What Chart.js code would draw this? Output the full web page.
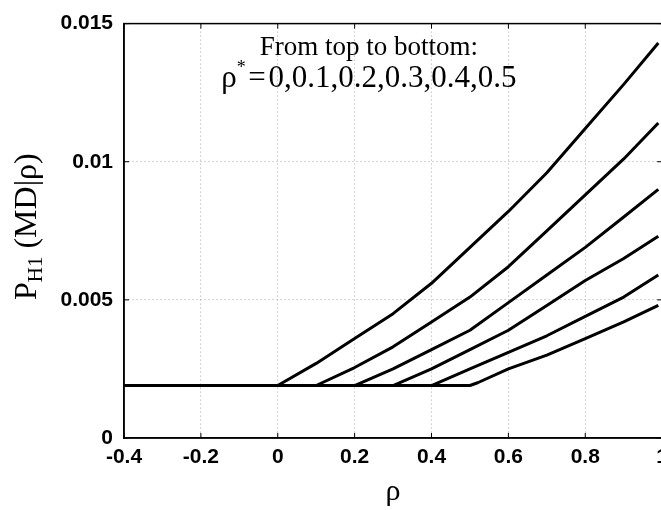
<!DOCTYPE html>
<html>
<head>
<meta charset="utf-8">
<script src="https://cdn.jsdelivr.net/npm/chart.js@4.4.0/dist/chart.umd.min.js"></script>
<style>
  html, body { margin: 0; padding: 0; background: #fff; overflow: hidden; }
  #wrap { width: 675px; height: 510px; }
</style>
</head>
<body>
<div id="wrap"><canvas id="chart"></canvas></div>
<script>
// one curve per rho*, flat at the floor value until rho reaches rho*
const rhoStar = [0, 0.1, 0.2, 0.3, 0.4, 0.5];

const rhoA = [-0.4, 0, 0.1, 0.2, 0.3, 0.4, 0.5, 0.6, 0.7, 0.8, 0.9, 0.99];
const pA   = [0.0019, 0.0019, 0.0027, 0.0036, 0.0045, 0.0056, 0.0069, 0.0082, 0.0096, 0.0112, 0.0128, 0.0143];

const rhoB = [-0.4, 0.1, 0.2, 0.3, 0.4, 0.5, 0.6, 0.7, 0.8, 0.9, 0.99];
const pB   = [0.0019, 0.0019, 0.00255, 0.0033, 0.0042, 0.0051, 0.0062, 0.0075, 0.0088, 0.0101, 0.0114];

const rhoC = [-0.4, 0.2, 0.3, 0.4, 0.5, 0.6, 0.7, 0.8, 0.9, 0.99];
const pC   = [0.0019, 0.0019, 0.0025, 0.0032, 0.0039, 0.0049, 0.0059, 0.0069, 0.0080, 0.0090];

const rhoD = [-0.4, 0.3, 0.4, 0.5, 0.6, 0.7, 0.8, 0.9, 0.99];
const pD   = [0.0019, 0.0019, 0.0025, 0.0032, 0.0039, 0.0048, 0.0057, 0.0065, 0.0073];

const rhoE = [-0.4, 0.4, 0.5, 0.6, 0.7, 0.8, 0.9, 0.99];
const pE   = [0.0019, 0.0019, 0.0025, 0.0031, 0.0037, 0.0044, 0.0051, 0.0059];

const rhoF = [-0.4, 0.5, 0.52, 0.6, 0.7, 0.8, 0.9, 0.99];
const pF   = [0.0019, 0.0019, 0.0020, 0.0025, 0.0030, 0.0036, 0.0042, 0.0048];

const xTickLabels = ['-0.4', '-0.2', '0', '0.2', '0.4', '0.6', '0.8', '1'];
const yTickLabels = ['0', '0.005', '0.01', '0.015'];

const serif = "'Liberation Serif', 'Times New Roman', serif";
const sans = "'Liberation Sans', Arial, sans-serif";

function makeSet(xs, ys) {
    return {
        data: xs.map((x, i) => ({ x: x, y: ys[i] })),
        borderColor: '#000',
        borderWidth: 3,
        borderJoinStyle: 'round',
        pointRadius: 0,
        fill: false,
        tension: 0
    };
}

// draw several text pieces in a row, each with its own size and baseline shift
function drawPieces(ctx, pieces, x, y) {
    let w = 0;
    pieces.forEach(p => { ctx.font = p.size + 'px ' + serif; p.w = ctx.measureText(p.text).width; w += p.w; });
    let cx = x - w / 2;
    pieces.forEach(p => {
        ctx.font = p.size + 'px ' + serif;
        ctx.fillText(p.text, cx, y + (p.dy || 0));
        cx += p.w;
    });
}

const decor = {
    id: 'decor',
    afterDatasetsDraw(chart) {
        const { ctx, chartArea: a, scales } = chart;
        ctx.save();
        ctx.strokeStyle = '#000';
        ctx.lineWidth = 1.5;
        ctx.strokeRect(a.left, a.top, a.right - a.left, a.bottom - a.top);

        // small inward ticks, matlab style
        ctx.lineWidth = 1;
        ctx.beginPath();
        scales.x.ticks.forEach(t => {
            const px = scales.x.getPixelForValue(t.value);
            ctx.moveTo(px, a.bottom); ctx.lineTo(px, a.bottom - 5);
            ctx.moveTo(px, a.top); ctx.lineTo(px, a.top + 5);
        });
        scales.y.ticks.forEach(t => {
            const py = scales.y.getPixelForValue(t.value);
            ctx.moveTo(a.left, py); ctx.lineTo(a.left + 5, py);
            ctx.moveTo(a.right, py); ctx.lineTo(a.right - 5, py);
        });
        ctx.stroke();

        // note inside the plot
        ctx.fillStyle = '#000';
        ctx.textBaseline = 'alphabetic';
        ctx.textAlign = 'left';
        const noteX = a.left + 0.455 * (a.right - a.left);
        drawPieces(ctx, [{ text: 'From top to bottom:', size: 27 }], noteX, 55);
        drawPieces(ctx, [
            { text: 'ρ', size: 31 },
            { text: '*', size: 18, dy: -14 },
            { text: '\u200A=\u200A0,0.1,0.2,0.3,0.4,0.5', size: 31 }
        ], noteX, 87);

        // y axis title, rotated
        ctx.translate(36, a.top + 0.49 * (a.bottom - a.top));
        ctx.rotate(-Math.PI / 2);
        drawPieces(ctx, [
            { text: 'P', size: 32 },
            { text: 'H1', size: 21, dy: 6 },
            { text: ' (MD|ρ)', size: 32 }
        ], 0, 0);
        ctx.restore();
    }
};

const datasets = [
    makeSet(rhoA, pA),
    makeSet(rhoB, pB),
    makeSet(rhoC, pC),
    makeSet(rhoD, pD),
    makeSet(rhoE, pE),
    makeSet(rhoF, pF)
];

const tickFont = { family: sans, size: 21, weight: 'bold' };

new Chart(document.getElementById('chart'), {
    type: 'line',
    data: { datasets: datasets },
    options: {
        responsive: true,
        maintainAspectRatio: false,
        animation: false,
        layout: { padding: { top: 14, left: 0, right: 0, bottom: 0 } },
        plugins: { legend: { display: false }, tooltip: { enabled: false } },
        scales: {
            x: {
                type: 'linear',
                min: -0.4,
                max: 1,
                ticks: {
                    stepSize: 0.2,
                    color: '#000',
                    font: tickFont,
                    padding: 7,
                    maxRotation: 0,
                    callback: (v, i) => xTickLabels[i]
                },
                grid: { color: '#aaa', drawTicks: false },
                border: { display: true, color: '#000', width: 1.5, dash: [1, 3] },
                title: {
                    display: true,
                    text: 'ρ',
                    color: '#000',
                    font: { family: serif, size: 30 },
                    padding: { top: 0, bottom: 0 }
                },
                afterFit: s => { s.height = 72; }
            },
            y: {
                min: 0,
                max: 0.015,
                ticks: {
                    stepSize: 0.005,
                    color: '#000',
                    font: tickFont,
                    padding: 11,
                    callback: (v, i) => yTickLabels[i]
                },
                grid: { color: '#aaa', drawTicks: false },
                border: { display: true, color: '#000', width: 1.5, dash: [1, 3] },
                afterFit: s => { s.width = 124; }
            }
        }
    },
    plugins: [decor]
});
</script>
</body>
</html>
